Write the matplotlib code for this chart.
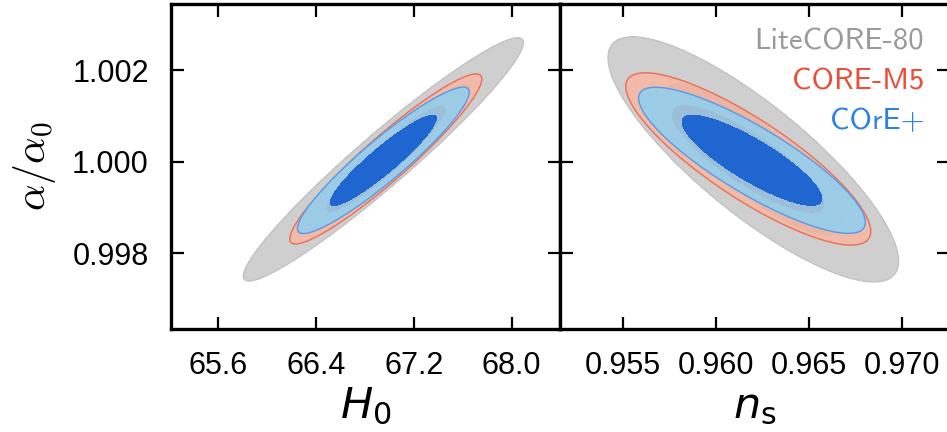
import numpy as np
import matplotlib
matplotlib.use("Agg")
import matplotlib.pyplot as plt

# experiments, drawn back to front
names = ["LiteCORE-80", "CORE-M5", "COrE+"]
light_colors = ["#cfcfcf", "#f8b7a3", "#8fd0f2"]
dark_colors = ["#a8a8a8", "#e0654a", "#1f66d1"]
edge_colors = ["#c4c4c4", "#e8705a", "#5a9be8"]
text_colors = ["#9a9a9a", "#e8503a", "#2f80e6"]
fill_alpha = [1.0, 0.85, 0.85]

# alpha/alpha0 vs H0
h0_mean = [66.95, 66.97, 66.95]
h0_sigma = [0.468, 0.321, 0.287]
alpha_h0_mean = [1.00005, 1.00006, 1.00003]
alpha_h0_sigma = [0.001087, 0.00076, 0.000654]
rho_h0 = [0.96, 0.94, 0.93]

# alpha/alpha0 vs ns
ns_mean = [0.96202, 0.96175, 0.96195]
ns_sigma = [0.00319, 0.00269, 0.00249]
alpha_ns_mean = [1.00005, 1.00006, 1.00003]
alpha_ns_sigma = [0.001095, 0.00077, 0.000653]
rho_ns = [-0.83, -0.84, -0.85]

h0_ticks = [65.6, 66.4, 67.2, 68.0]
ns_ticks = [0.955, 0.960, 0.965, 0.970]
alpha_ticks = [0.998, 1.000, 1.002]

# delta chi^2 for 68% and 95% in 2D
levels = [0, 2.28, 5.99]

W, H = 947, 432
fig = plt.figure(figsize=(W / 100, H / 100), dpi=100)
ax1 = fig.add_axes([171 / W, 1 - 329 / H, 389 / W, 325.5 / H])
ax2 = fig.add_axes([560 / W, 1 - 329 / H, 389 / W, 325.5 / H])


def chi2(X, Y, mx, sx, my, sy, r):
    dx = (X - mx) / sx
    dy = (Y - my) / sy
    return (dx ** 2 - 2 * r * dx * dy + dy ** 2) / (1 - r ** 2)


def draw(ax, xm, xs, ym, ys, rr):
    x = np.linspace(*ax.get_xlim(), 600)
    y = np.linspace(*ax.get_ylim(), 600)
    X, Y = np.meshgrid(x, y)
    for i in range(len(names)):
        c = chi2(X, Y, xm[i], xs[i], ym[i], ys[i], rr[i])
        # 95% band (semi transparent for the overlaid ones), 68% core opaque
        ax.contourf(X, Y, c, levels=levels[1:], colors=[light_colors[i]],
                    alpha=fill_alpha[i], zorder=i + 1)
        ax.contourf(X, Y, c, levels=levels[:2], colors=[dark_colors[i]],
                    zorder=i + 1)
        ax.contour(X, Y, c, levels=[levels[2]], colors=[edge_colors[i]],
                   linewidths=1.0, zorder=i + 1)


ax1.set_xlim(65.213, 68.395)
ax1.set_ylim(0.99634, 1.00346)
ax2.set_xlim(0.95163, 0.97254)
ax2.set_ylim(0.99634, 1.00346)

draw(ax1, h0_mean, h0_sigma, alpha_h0_mean, alpha_h0_sigma, rho_h0)
draw(ax2, ns_mean, ns_sigma, alpha_ns_mean, alpha_ns_sigma, rho_ns)

tick_font = {"family": "Liberation Sans", "size": 22}
for ax in (ax1, ax2):
    ax.set_yticks(alpha_ticks)
    ax.tick_params(direction="in", length=9, width=1.6, top=True, right=True,
                   pad=16, labelsize=22)
    for s in ax.spines.values():
        s.set_linewidth(2.4)
        s.set_zorder(10)

ax1.set_xticks(h0_ticks)
ax1.set_xticklabels(["%.1f" % t for t in h0_ticks], fontdict=tick_font)
ax1.set_yticklabels(["%.3f" % t for t in alpha_ticks], fontdict=tick_font)
ax2.set_xticks(ns_ticks)
ax2.set_xticklabels(["%.3f" % t for t in ns_ticks], fontdict=tick_font)
ax2.set_yticklabels([])

ax1.set_ylabel(r"$\alpha/\alpha_0$", fontsize=30, math_fontfamily="cm", labelpad=10)
ax1.set_xlabel(r"$H_0$", fontsize=31, math_fontfamily="dejavusans", labelpad=3)
ax2.set_xlabel(r"$n_\mathrm{s}$", fontsize=31, math_fontfamily="dejavusans", labelpad=3)

# legend as coloured labels
for i, (name, col) in enumerate(zip(names, text_colors)):
    ax2.text(924 / W, 1 - (42 + 40 * i) / H, name, transform=fig.transFigure,
             ha="right", va="center", color=col, fontsize=22, family="cmss10",
             zorder=20)

fig.savefig("out.png", dpi=100)
